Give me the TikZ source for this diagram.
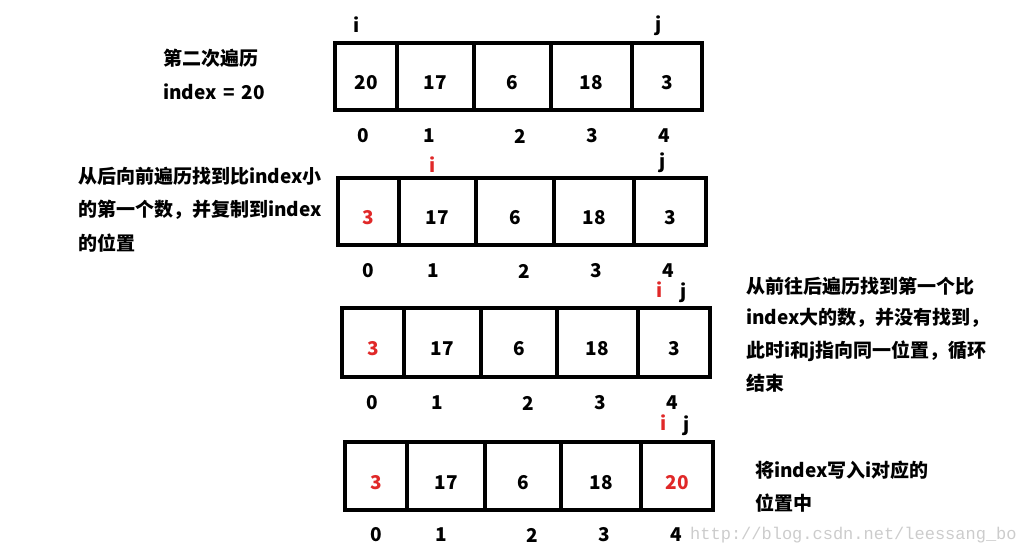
\documentclass[tikz,border=0pt]{standalone}
\usepackage{fontspec}
\setmainfont{Noto Sans CJK SC}
\newfontfamily\urlfont{Liberation Mono}
\definecolor{mark}{RGB}{224,40,40}

\begin{document}
\begin{tikzpicture}[
    % GLOBAL CFG
    x=1pt, y=-1pt,
    font=\bfseries\fontsize{19}{23}\selectfont,
    % Styles
    cell/.style={% one box of the array
        rectangle,
        draw,
        line width=4.5pt,
        minimum height=67pt,
        inner sep=0pt,
        text height=26pt, % digits sit a bit low in the box
        text depth=0pt,
        },
    idx/.style={% index under a box
        inner sep=0pt,
        },
    ptr/.style={% the i and j above the array
        inner sep=0pt,
        },
    note/.style={% explanation text
        anchor=west,
        inner sep=0pt,
        },
    moved/.style={% values that were moved
        text=mark,
        },
    ]
    \useasboundingbox (0,0) rectangle (1024,554);

    % First pass, start
    \node [note] (t1a) at (163,58) {第二次遍历};
    \node [note] (t1b) at (163,92) {index\hspace{0.35em}=\hspace{0.35em}20};
    \node [ptr] (a1i) at (357,25) {i};
    \node [ptr] (a1j) at (659,26) {j};
    \node [cell, minimum width=62] (a1c0) at (366,76.5) {20};
    \node [cell, minimum width=77] (a1c1) at (435.5,76.5) {17};
    \node [cell, minimum width=77] (a1c2) at (512.5,76.5) {6};
    \node [cell, minimum width=81] (a1c3) at (591.5,76.5) {18};
    \node [cell, minimum width=70] (a1c4) at (667,76.5) {3};
    \node [idx] (a1n0) at (363,136) {0};
    \node [idx] (a1n1) at (429,136) {1};
    \node [idx] (a1n2) at (520,136) {2};
    \node [idx] (a1n3) at (592,136) {3};
    \node [idx] (a1n4) at (664,136) {4};

    % j walks back
    \node [note] (t2a) at (78,176) {从后向前遍历找到比index小};
    \node [note] (t2b) at (78,210) {的第一个数，并复制到index};
    \node [note] (t2c) at (78,243) {的位置};
    \node [ptr, moved] (a2i) at (433,165) {i};
    \node [ptr] (a2j) at (663,163) {j};
    \node [cell, minimum width=61, moved] (a2c0) at (368.5,211.5) {3};
    \node [cell, minimum width=77] (a2c1) at (437.5,211.5) {17};
    \node [cell, minimum width=78] (a2c2) at (515,211.5) {6};
    \node [cell, minimum width=80] (a2c3) at (594,211.5) {18};
    \node [cell, minimum width=72] (a2c4) at (670,211.5) {3};
    \node [idx] (a2n0) at (368,271) {0};
    \node [idx] (a2n1) at (433,271) {1};
    \node [idx] (a2n2) at (524,271) {2};
    \node [idx] (a2n3) at (596,271) {3};
    \node [idx] (a2n4) at (668,271) {4};

    % i walks forward
    \node [note] (t3a) at (746,286) {从前往后遍历找到第一个比};
    \node [note] (t3b) at (746,318) {index大的数，并没有找到，};
    \node [note] (t3c) at (746,351) {此时i和j指向同一位置，循环};
    \node [note] (t3d) at (746,383) {结束};
    \node [ptr, moved] (a3i) at (660,290) {i};
    \node [ptr] (a3j) at (684,293) {j};
    \node [cell, minimum width=62, minimum height=69, moved] (a3c0) at (373,342.5) {3};
    \node [cell, minimum width=77, minimum height=69] (a3c1) at (442.5,342.5) {17};
    \node [cell, minimum width=76, minimum height=69] (a3c2) at (519,342.5) {6};
    \node [cell, minimum width=81, minimum height=69] (a3c3) at (597.5,342.5) {18};
    \node [cell, minimum width=72, minimum height=69] (a3c4) at (674,342.5) {3};
    \node [idx] (a3n0) at (372,403) {0};
    \node [idx] (a3n1) at (437,403) {1};
    \node [idx] (a3n2) at (528,403) {2};
    \node [idx] (a3n3) at (600,403) {3};
    \node [idx] (a3n4) at (672,403) {4};

    % write index back
    \node [note] (t4a) at (755,470) {将index写入i对应的};
    \node [note] (t4b) at (755,503) {位置中};
    \node [ptr, moved] (a4i) at (664,423) {i};
    \node [ptr] (a4j) at (687,426) {j};
    \node [cell, minimum width=62, minimum height=68, moved] (a4c0) at (376,476) {3};
    \node [cell, minimum width=78, minimum height=68] (a4c1) at (446,476) {17};
    \node [cell, minimum width=76, minimum height=68] (a4c2) at (523,476) {6};
    \node [cell, minimum width=80, minimum height=68] (a4c3) at (601,476) {18};
    \node [cell, minimum width=72, minimum height=68, moved] (a4c4) at (677,476) {20};
    \node [idx] (a4n0) at (376,535) {0};
    \node [idx] (a4n1) at (441,535) {1};
    \node [idx] (a4n2) at (532,535) {2};
    \node [idx] (a4n3) at (604,535) {3};
    \node [idx] (a4n4) at (676,535) {4};

    % watermark
    \node [note, text=gray!40, font=\urlfont\fontsize{17}{20}\selectfont] (url) at (690,535) {http://blog.csdn.net/leessang\_bo};
\end{tikzpicture}
\end{document}
